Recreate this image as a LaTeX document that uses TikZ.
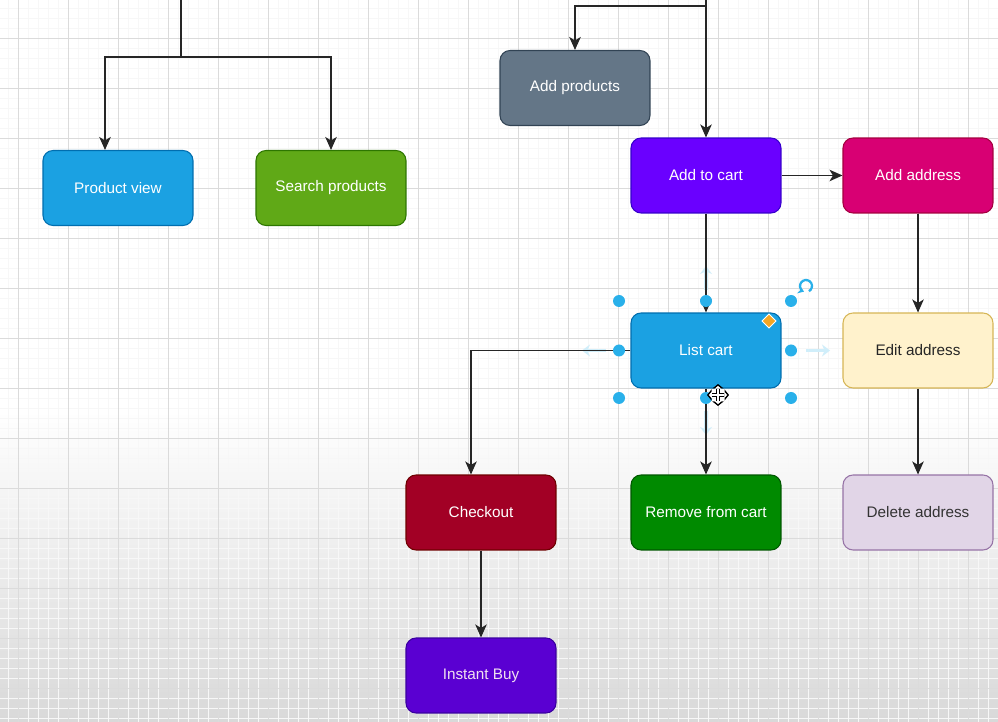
\documentclass[tikz,border=0pt]{standalone}
\usepackage{fontspec}
\setmainfont{Liberation Sans}
\usetikzlibrary{arrows.meta}

\definecolor{blueF}{HTML}{1BA1E2}\definecolor{blueD}{HTML}{006EAF}
\definecolor{greenF}{HTML}{60A917}\definecolor{greenD}{HTML}{2D7600}
\definecolor{slateF}{HTML}{647687}\definecolor{slateD}{HTML}{314354}
\definecolor{violetF}{HTML}{6A00FF}\definecolor{violetD}{HTML}{3700CC}
\definecolor{pinkF}{HTML}{D80073}\definecolor{pinkD}{HTML}{A50040}
\definecolor{yellowF}{HTML}{FFF2CC}\definecolor{yellowD}{HTML}{D6B656}
\definecolor{redF}{HTML}{A20025}\definecolor{redD}{HTML}{6F0000}
\definecolor{darkgreenF}{HTML}{008A00}\definecolor{darkgreenD}{HTML}{005700}
\definecolor{lilacF}{HTML}{E1D5E7}\definecolor{lilacD}{HTML}{9673A6}
\definecolor{indigoF}{HTML}{5A00D2}\definecolor{indigoD}{HTML}{3A00A0}
\definecolor{handleC}{HTML}{29B0EA}
\definecolor{diamondC}{HTML}{F5A623}

\tikzset{
box/.style={rectangle,rounded corners=0.2cm,minimum width=3cm,minimum height=1.5cm,
  inner sep=0pt,line width=0.6pt,text=white,font=\fontsize{8.7}{10}\selectfont},
conn/.style={line width=0.75pt,draw=black!85,-{Stealth[length=2.6mm,width=2.3mm,inset=0.7mm]}},
gridminor/.style={line width=0.2pt,black!3},
gridmajor/.style={line width=0.3pt,black!14},
hover/.style={line width=2pt,handleC!22,-{Stealth[length=1.6mm,width=2.4mm]}},
curout/.style={black,line width=2.2pt,{Triangle[length=0.9mm,width=2.2mm]}-{Triangle[length=0.9mm,width=2.2mm]}},
curin/.style={white,line width=0.8pt,{Triangle[length=0.55mm,width=1.3mm]}-{Triangle[length=0.55mm,width=1.3mm]}},
}

\providecommand{\Handle}[1]{
\fill[handleC] (#1) circle (0.12cm);
}

\begin{document}
\begin{tikzpicture}[x=0.02cm,y=-0.02cm]
\useasboundingbox (0,0) rectangle (998,722);
\fill[white] (0,0) rectangle (998,722);
\shade[top color=white,bottom color=black!15] (0,410) rectangle (998,722);
% grid
\foreach \gx in {8,18,...,998} \draw[gridminor] (\gx,0) -- (\gx,722);
\foreach \gy in {8,18,...,722} \draw[gridminor] (0,\gy) -- (998,\gy);
\foreach \gx in {18,68,...,998} \draw[gridmajor] (\gx,0) -- (\gx,722);
\foreach \gy in {38,88,...,722} \draw[gridmajor] (0,\gy) -- (998,\gy);

% boxes
\node[box,fill=blueF,draw=blueD] (pview) at (118,188) {Product view};
\node[box,fill=greenF,draw=greenD] (search) at (331,188) {Search products};
\node[box,fill=slateF,draw=slateD] (addprod) at (575,88) {Add products};
\node[box,fill=violetF,draw=violetD] (addcart) at (706,175.5) {Add to cart};
\node[box,fill=pinkF,draw=pinkD] (addaddr) at (918,175.5) {Add address};
\node[box,fill=yellowF,draw=yellowD,text=black!85] (editaddr) at (918,350.5) {Edit address};
\node[box,fill=redF,draw=redD] (checkout) at (481,512.5) {Checkout};
\node[box,fill=darkgreenF,draw=darkgreenD] (remove) at (706,512.5) {Remove from cart};
\node[box,fill=lilacF,draw=lilacD,text=black!80] (deladdr) at (918,512.5) {Delete address};
\node[box,fill=indigoF,draw=indigoD,text=white!88!violet] (instant) at (481,675.5) {Instant Buy};

% hover arrows round the selected box
\draw[hover] (606,350.5) -- (582,350.5);
\draw[hover] (806,350.5) -- (830,350.5);
\draw[hover] (706,290) -- (706,266);
\draw[hover] (706,411) -- (706,435);

\node[box,fill=blueF,draw=blueD] (listcart) at (706,350.5) {List cart};

% connectors
\coordinate (t1) at (181,0);
\coordinate (j1) at (181,57);
\coordinate (t2) at (706,0);
\coordinate (j2) at (706,6);
\draw[conn] (t1) -- (j1) -| ([xshift=-0.26cm]pview.north);
\draw[conn] (j1) -| (search.north);
\draw[conn] (t2) -- (addcart.north);
\draw[conn] (j2) -| (addprod.north);
\draw[conn] (addcart.east) -- (addaddr.west);
\draw[conn] (addcart.south) -- (listcart.north);
\draw[conn] (addaddr.south) -- (editaddr.north);
\draw[conn] (editaddr.south) -- (deladdr.north);
\draw[conn] (listcart.south) -- (remove.north);
\draw[conn] (listcart.west) -| ([xshift=-0.2cm]checkout.north);
\draw[conn] (checkout.south) -- (instant.north);

% selection handles
\Handle{619,301}\Handle{706,301}\Handle{791,301}
\Handle{619,350.5}\Handle{791,350.5}
\Handle{619,398}\Handle{706,398}\Handle{791,398}
\draw[handleC,line width=1.3pt,-{Stealth[length=1.2mm,width=1.6mm]}]
  (806,286) ++(60:6) arc[start angle=60,end angle=-250,radius=6];
\fill[diamondC,draw=white,line width=0.5pt] (769,314) -- (776,321) -- (769,328) -- (762,321) -- cycle;

% move cursor
\draw[curout] (707,395) -- (729,395);
\draw[curout] (718,384) -- (718,406);
\draw[curin] (709,395) -- (727,395);
\draw[curin] (718,386) -- (718,404);
\end{tikzpicture}
\end{document}
